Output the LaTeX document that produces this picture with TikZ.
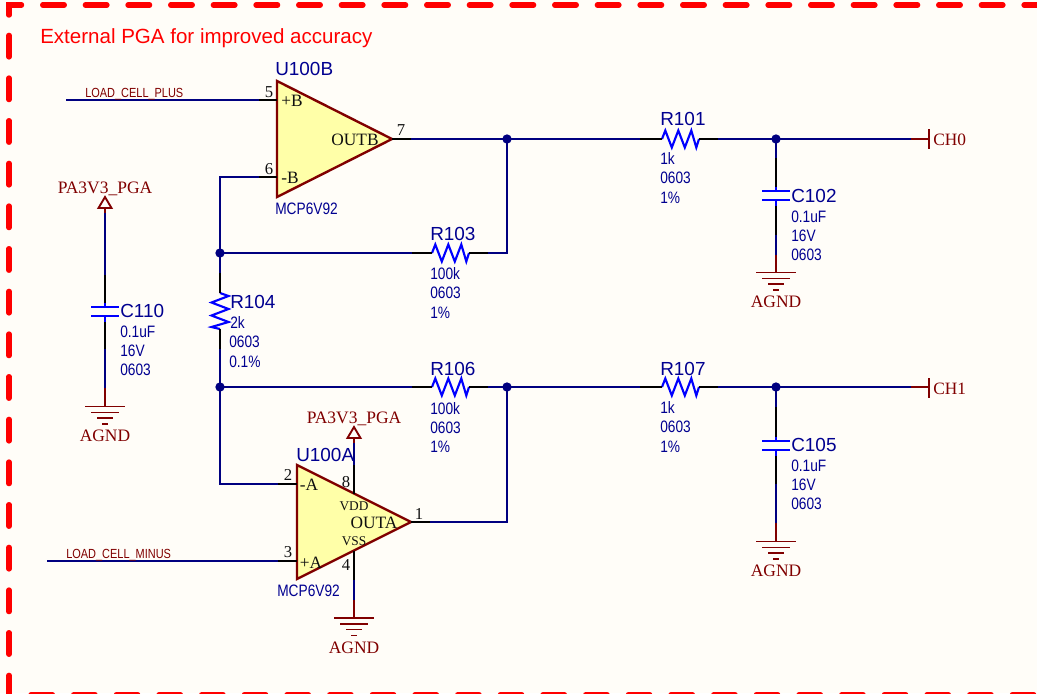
\documentclass[tikz,border=0pt]{standalone}
\usepackage{fontspec}
\setmainfont{Liberation Serif}
\newfontfamily\sanf{Liberation Sans}
\newfontfamily\narf[FakeStretch=0.83]{Liberation Sans}
\usetikzlibrary{calc}
\definecolor{wireC}{HTML}{000080}
\definecolor{partC}{HTML}{0000FF}
\definecolor{netC}{HTML}{800000}
\definecolor{bgC}{HTML}{FFFDF8}
\definecolor{ampC}{HTML}{FFFFA8}
\definecolor{desC}{HTML}{000090}
\definecolor{pinC}{HTML}{101010}
\tikzset{
  x=0.75pt,y=-0.75pt,
  wire/.style={draw=wireC,line width=1.8pt},
  pinline/.style={draw=black,line width=1.8pt},
  netline/.style={draw=netC,line width=1.8pt},
  barline/.style={draw=netC,line width=1.4pt},
  partline/.style={draw=partC,line width=1.6pt},
  dot/.style={circle,fill=wireC,draw=none,inner sep=0pt,minimum size=7pt},
  amp/.style={draw=netC,fill=ampC,line width=1.8pt,line join=miter},
  frameline/.style={draw=red,line width=4.1pt,line cap=round},
  txt/.style={inner sep=0pt,anchor=base west},
  ref/.style={txt,text=desC,font=\sanf\fontsize{14.2}{14}\selectfont},
  val/.style={txt,text=desC,font=\narf\fontsize{12.4}{12}\selectfont},
  net/.style={inner sep=0pt,anchor=base,text=netC,font=\fontsize{13.1}{13}\selectfont},
  smallnet/.style={txt,text=netC,font=\narf\fontsize{9.9}{10}\selectfont},
  pinnum/.style={inner sep=0pt,anchor=base,text=pinC,font=\fontsize{12.5}{12}\selectfont},
  pinname/.style={inner sep=0pt,anchor=base,text=pinC,font=\fontsize{13}{13}\selectfont},
  pintiny/.style={inner sep=0pt,anchor=base,text=pinC,font=\fontsize{10}{10}\selectfont},
}
% horizontal resistor: name, left x, y
\newcommand\resH[3]{%
  \coordinate (#1a) at (#2,#3);
  \coordinate (#1b) at (#2+37,#3);
  \draw[partline,line join=miter] (#1a) -- ++(3.3,-8.5) -- ++(6.5,17) -- ++(6.5,-17) -- ++(6.5,17) -- ++(6.5,-17) -- ++(5,17) -- (#1b);
}
% vertical resistor: name, x, top y
\newcommand\resV[3]{%
  \coordinate (#1a) at (#2,#3);
  \coordinate (#1b) at (#2,#3+36);
  \draw[partline,line join=miter] (#1a) -- ++(8.5,3) -- ++(-17,6.5) -- ++(17,6.5) -- ++(-17,6.5) -- ++(17,6.5) -- ++(-17,5) -- (#1b);
}
% capacitor: name, x, top plate y
\newcommand\capV[3]{%
  \coordinate (#1a) at (#2,#3-4.5);
  \coordinate (#1b) at (#2,#3+15);
  \draw[partline] (#2-14,#3) -- (#2+14,#3);
  \draw[partline] (#2-14,#3+9) -- (#2+14,#3+9);
  \draw[partline] (#1a) -- (#2,#3);
  \draw[partline] (#2,#3+9) -- (#1b);
}
% ground: name, x, top y
\newcommand\gndS[3]{%
  \coordinate (#1) at (#2,#3);
  \draw[barline] (#2-20,#3) -- (#2+20,#3);
  \draw[barline] (#2-14,#3+6) -- (#2+14,#3+6);
  \draw[barline] (#2-8,#3+11.5) -- (#2+8,#3+11.5);
  \draw[barline] (#2-3,#3+17.5) -- (#2+3,#3+17.5);
  \node[net] (#1t) at (#2,#3+35) {AGND};
}
% power: name, x, tip y
\newcommand\pwrS[3]{%
  \coordinate (#1) at (#2,#3+16);
  \draw[barline,line join=miter] (#2,#3) -- (#2+6.5,#3+11) -- (#2-6.5,#3+11) -- cycle;
  \draw[netline] (#2,#3+11) -- (#1);
  \node[net] (#1t) at (#2,#3-4) {PA3V3\_PGA};
}
\begin{document}
\begin{tikzpicture}
\useasboundingbox (0,0) rectangle (1037,693);
\fill[bgC] (0,0) rectangle (1037,693);
% frame
\draw[frameline] (9,15) -- (9,5) -- (21.5,5);
\draw[frameline,dash pattern=on 16.1pt off 15.9pt] (42.75,5) -- (1050,5);
\draw[frameline,dash pattern=on 16.1pt off 15.9pt] (9,35.4) -- (9,696);
\draw[frameline,dash pattern=on 16.1pt off 15.9pt] (31,694.8) -- (1050,694.8);
\node[txt,text=red,font=\sanf\fontsize{15.4}{15}\selectfont] (title) at (40,43) {External PGA for improved accuracy};

% amplifiers
\draw[amp] (277,81) coordinate (bT) -- (392,139) coordinate (bO) -- (277,197) coordinate (bB) -- cycle;
\draw[amp] (297,465) coordinate (aT) -- (411,522) coordinate (aO) -- (297,579) coordinate (aB) -- cycle;

% resistors
\resH{R101}{662}{139}
\resH{R103}{432}{253}
\resH{R106}{432}{387}
\resH{R107}{662}{387}
\resV{R104}{220}{293}

% capacitors
\capV{C102}{776}{191}
\capV{C105}{776}{441}
\capV{C110}{105}{307}

% ground and power
\gndS{G102}{776}{272.5}
\gndS{G105}{776}{541.5}
\gndS{G110}{105}{406.5}
\gndS{GA}{354}{618}
\pwrS{P110}{105}{197}
\pwrS{PA}{354}{427}

% U100B
\coordinate (in5) at (66,100);
\coordinate (p5) at (259,100);
\coordinate (q5) at (277,100);
\coordinate (p6) at (259,177);
\coordinate (q6) at (277,177);
\coordinate (c6) at (220,177);
\coordinate (p7) at (411,139);
\coordinate (c1j) at (507,139);
\coordinate (c2j) at (776,139);
\coordinate (c3j) at (220,253);
\coordinate (c4j) at (507,387);
\coordinate (c5j) at (776,387);
\coordinate (c6j) at (220,387);
\draw[wire] (in5) -- (p5);
\draw[pinline] (p5) -- (q5);
\draw[pinline] (p6) -- (q6);
\draw[wire] (p6) -- (c6) -- (c3j);
\draw[pinline] (bO) -- (p7);
\draw[wire] (p7) -- (c1j);
\draw[wire] (c1j) -- (640,139) coordinate (w1);
\draw[pinline] (w1) -- (R101a);
\draw[pinline] (R101b) -- ++(19,0) coordinate (w2);
\draw[wire] (w2) -- (c2j);
\draw[wire] (c2j) -- (911,139) coordinate (w3);
\draw[netline] (w3) -- (929,139) coordinate (ch0);
\draw[barline] (929,129) -- (929,149);

% C102
\draw[wire] (c2j) -- (776,158) coordinate (c1);
\draw[pinline] (c1) -- (C102a);
\draw[pinline] (C102b) -- (776,235) coordinate (c2);
\draw[wire] (c2) -- (776,255) coordinate (c3);
\draw[netline] (c3) -- (G102);

% R103 feedback
\draw[wire] (c3j) -- (412,253) coordinate (f1);
\draw[pinline] (f1) -- (R103a);
\draw[pinline] (R103b) -- ++(19,0) coordinate (f2);
\draw[wire] (f2) -- (507,253) -- (c1j);

% R104
\draw[wire] (c3j) -- (220,273) coordinate (g1);
\draw[pinline] (g1) -- (R104a);
\draw[pinline] (R104b) -- (220,349) coordinate (g2);
\draw[wire] (g2) -- (c6j);

% R106 row
\draw[wire] (c6j) -- (412,387) coordinate (h1);
\draw[pinline] (h1) -- (R106a);
\draw[pinline] (R106b) -- ++(19,0) coordinate (h2);
\draw[wire] (h2) -- (c4j);
\draw[wire] (c4j) -- (640,387) coordinate (h3);
\draw[pinline] (h3) -- (R107a);
\draw[pinline] (R107b) -- ++(19,0) coordinate (h4);
\draw[wire] (h4) -- (c5j);
\draw[wire] (c5j) -- (911,387) coordinate (h5);
\draw[netline] (h5) -- (929,387) coordinate (ch1);
\draw[barline] (929,378) -- (929,398);

% C105
\draw[wire] (c5j) -- (776,407) coordinate (k1);
\draw[pinline] (k1) -- (C105a);
\draw[pinline] (C105b) -- (776,484) coordinate (k2);
\draw[wire] (k2) -- (776,523) coordinate (k3);
\draw[netline] (k3) -- (G105);

% C110
\draw[wire] (P110) -- (105,275) coordinate (m1);
\draw[pinline] (m1) -- (C110a);
\draw[pinline] (C110b) -- (105,349) coordinate (m3);
\draw[wire] (m3) -- (105,388) coordinate (m2);
\draw[netline] (m2) -- (G110);

% U100A
\coordinate (p2) at (278,484);
\coordinate (q2) at (297,484);
\coordinate (p3) at (278,561);
\coordinate (q3) at (297,561);
\draw[wire] (c6j) -- (220,484) -- (p2);
\draw[pinline] (p2) -- (q2);
\draw[wire] (47,561) coordinate (in3) -- (p3);
\draw[pinline] (p3) -- (q3);
\draw[pinline] (354,494) coordinate (p8) -- (354,465) coordinate (q8);
\draw[wire] (q8) -- (PA);
\draw[pinline] (354,551) coordinate (p4) -- (354,580) coordinate (q4);
\draw[wire] (q4) -- (354,600) coordinate (q4b);
\draw[netline] (q4b) -- (GA);
\draw[pinline] (aO) -- (430,522) coordinate (p1);
\draw[wire] (p1) -- (507,522) -- (c4j);

% junctions
\node[dot] (j1) at (c1j) {};
\node[dot] (j2) at (c2j) {};
\node[dot] (j3) at (c3j) {};
\node[dot] (j4) at (c4j) {};
\node[dot] (j5) at (c5j) {};
\node[dot] (j6) at (c6j) {};

% text: U100B
\node[ref] (nb) at (275,75) {U100B};
\node[val] (tb) at (275,214) {MCP6V92};
\node[smallnet] (lp) at (85,97) {LOAD\_CELL\_PLUS};
\node[pinnum] (n5) at (269,97) {5};
\node[pinnum] (n6) at (269,174) {6};
\node[pinnum] (n7) at (401,135) {7};
\node[pinname] (pb1) at (292,106) {+B};
\node[pinname] (pb2) at (290,183) {-B};
\node[pinname] (pb3) at (355,145) {OUTB};
\node[txt,text=netC,font=\fontsize{13}{13}\selectfont] (ch0t) at (933,145) {CH0};
\node[txt,text=netC,font=\fontsize{13}{13}\selectfont] (ch1t) at (933,394) {CH1};

% text: U100A
\node[ref] (na) at (296,461.5) {U100A};
\node[val] (ta) at (277,596) {MCP6V92};
\node[smallnet] (lm) at (66,558) {LOAD\_CELL\_MINUS};
\node[pinnum] (n2) at (288,480) {2};
\node[pinnum] (n3) at (288,557) {3};
\node[pinnum] (n8) at (346,487) {8};
\node[pinnum] (n4) at (346,570) {4};
\node[pinnum] (n1) at (419,519) {1};
\node[pinname] (pa1) at (309,490) {-A};
\node[pinname] (pa2) at (311,568) {+A};
\node[pinname] (pa3) at (374,528) {OUTA};
\node[pintiny] (pa4) at (354,510) {VDD};
\node[pintiny] (pa5) at (354,545) {VSS};

% part labels
\node[ref] (r101) at (660,125) {R101};
\node[val] (r101v) at (660,164) {1k};
\node[val] (r101w) at (660,183) {0603};
\node[val] (r101x) at (660,203) {1\%};
\node[ref] (r107) at (660,375) {R107};
\node[val] (r107v) at (660,413) {1k};
\node[val] (r107w) at (660,432) {0603};
\node[val] (r107x) at (660,452) {1\%};
\node[ref] (r103) at (430,240) {R103};
\node[val] (r103v) at (430,279) {100k};
\node[val] (r103w) at (430,298) {0603};
\node[val] (r103x) at (430,318) {1\%};
\node[ref] (r106) at (430,375) {R106};
\node[val] (r106v) at (430,414) {100k};
\node[val] (r106w) at (430,433) {0603};
\node[val] (r106x) at (430,452) {1\%};
\node[ref] (r104) at (230,308) {R104};
\node[val] (r104v) at (230,328) {2k};
\node[val] (r104w) at (229,347) {0603};
\node[val] (r104x) at (229,367) {0.1\%};
\node[ref] (c102) at (791,202) {C102};
\node[val] (c102v) at (791,222) {0.1uF};
\node[val] (c102w) at (791,241) {16V};
\node[val] (c102x) at (791,260) {0603};
\node[ref] (c105) at (791,451) {C105};
\node[val] (c105v) at (791,471) {0.1uF};
\node[val] (c105w) at (791,490) {16V};
\node[val] (c105x) at (791,509) {0603};
\node[ref] (c110) at (120,317) {C110};
\node[val] (c110v) at (120,337) {0.1uF};
\node[val] (c110w) at (120,356) {16V};
\node[val] (c110x) at (120,375) {0603};
\end{tikzpicture}
\end{document}
